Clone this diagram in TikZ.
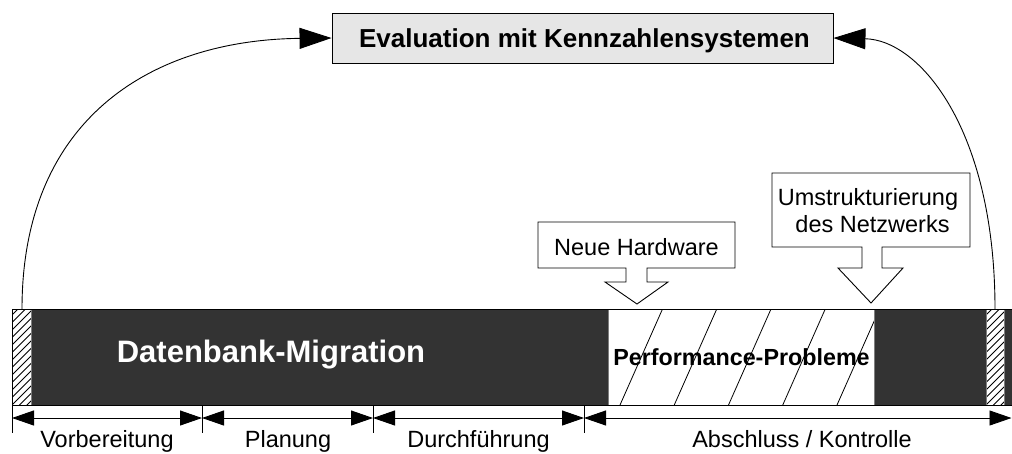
\documentclass[tikz,border=0pt]{standalone}
\usepackage{fontspec}
\setmainfont{Liberation Sans}
\usetikzlibrary{arrows.meta}
\definecolor{barDark}{HTML}{333333}
\definecolor{boxGray}{HTML}{E6E6E6}
\definecolor{edgeGray}{HTML}{7F7F7F}
\begin{document}
\begin{tikzpicture}[x=1pt,y=-1pt,
  line width=0.9pt,
  txt/.style={font=\fontsize{23.5}{27}\selectfont, inner sep=0pt, anchor=base},
  bigArrow/.style={-{Triangle[length=32pt,width=21pt]}},
  dimArrow/.style={{Triangle[length=22pt,width=15pt]}-{Triangle[length=22pt,width=15pt]}},
  callout/.style={draw=black, fill=white, line width=0.9pt},
  hatchline/.style={line width=0.8pt}
]
\useasboundingbox (0,0) rectangle (1012,453);

% ---- timeline bar ----
\fill[barDark] (12,309) rectangle (1012,405);
\fill[white] (12,309) rectangle (31,405);
\fill[white] (608,309) rectangle (874,405);
\fill[white] (986,309) rectangle (1004,405);

% hatching of the two narrow evaluation blocks
\begin{scope}
  \clip (12,309) rectangle (31,405);
  \foreach \k in {-4,...,16} \draw[hatchline] (12,405-7.5*\k) -- ++(40,-40);
\end{scope}
\begin{scope}
  \clip (986,309) rectangle (1004,405);
  \foreach \k in {-4,...,16} \draw[hatchline] (986,405-7.5*\k) -- ++(40,-40);
\end{scope}
% wide hatching of the problem phase
\begin{scope}
  \clip (608,309) rectangle (874,405);
  \foreach \k in {-1,...,5} \draw[hatchline] (620+54.25*\k,405) -- ++(42.5,-96);
\end{scope}

% segment borders
\draw[edgeGray, line width=0.8pt] (31,309) -- (31,405) (608,309) -- (608,405)
  (874,309) -- (874,405) (986,309) -- (986,405) (1004,309) -- (1004,405);
\draw (1012,309) -- (12,309) -- (12,405) -- (1012,405);

% bar labels
\node[txt, font=\fontsize{31}{35}\bfseries, text=white] (dbm) at (271,362) {Datenbank-Migration};
\node[txt, font=\fontsize{23.3}{27}\bfseries] (perf) at (741.5,365) {Performance-Probleme};

% ---- evaluation box ----
\node[draw=black, fill=boxGray, minimum width=501pt, minimum height=50pt, inner sep=0pt]
  (eval) at (582.5,38) {};
\node[txt, font=\fontsize{26}{30}\bfseries] (evaltxt) at (584.5,47) {Evaluation mit Kennzahlensystemen};

\coordinate (evL) at (22,309);
\coordinate (evR) at (995,309);
\draw[bigArrow] (evL) .. controls (22,120) and (150,40) .. (eval.west);
\draw[bigArrow] (evR) .. controls (995,130) and (920,40) .. (eval.east);

% ---- callouts ----
\draw[callout] (538,222) -- (735,222) -- (735,268) -- (647,268) -- (647,282) -- (668,282)
  -- (637,304) -- (605,282) -- (626,282) -- (626,268) -- (538,268) -- cycle;
\node[txt] (hw) at (636.5,255) {Neue Hardware};

\draw[callout] (772,173) -- (970,173) -- (970,247) -- (882,247) -- (882,268) -- (903,268)
  -- (871,303) -- (838,268) -- (862,268) -- (862,247) -- (772,247) -- cycle;
\node[txt] (net1) at (868,205) {Umstrukturierung};
\node[txt] (net2) at (872.5,232) {des Netzwerks};

% ---- phase dimensions ----
\foreach \x in {12,202,373,584} \draw (\x,405) -- (\x,433);
\coordinate (p0) at (12,418);
\coordinate (p1) at (202,418);
\coordinate (p2) at (373,418);
\coordinate (p3) at (584,418);
\coordinate (p4) at (1011.5,418);
\draw[dimArrow] (p0) -- (p1);
\draw[dimArrow] (p1) -- (p2);
\draw[dimArrow] (p2) -- (p3);
\draw[dimArrow] (p3) -- (p4);

\node[txt] (ph1) at (107,447) {Vorbereitung};
\node[txt] (ph2) at (288,447) {Planung};
\node[txt] (ph3) at (478.5,447) {Durchführung};
\node[txt] (ph4) at (802,447) {Abschluss / Kontrolle};
\end{tikzpicture}
\end{document}
